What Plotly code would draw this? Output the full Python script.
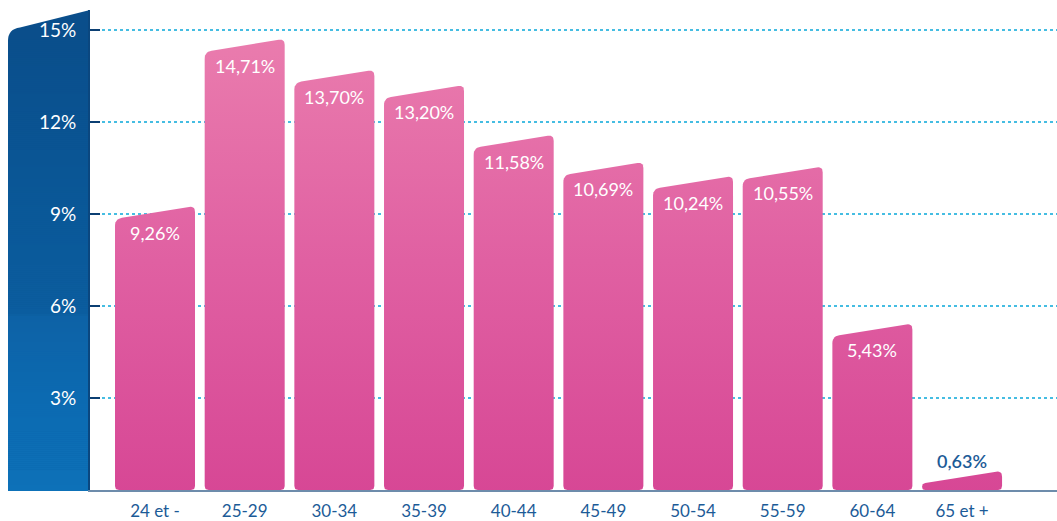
import math
import plotly.graph_objects as go

# ---- data ----
categories = ["24 et -", "25-29", "30-34", "35-39", "40-44", "45-49", "50-54", "55-59", "60-64", "65 et +"]
values = [9.26, 14.71, 13.70, 13.20, 11.58, 10.69, 10.24, 10.55, 5.43, 0.63]
value_labels = ["9,26%", "14,71%", "13,70%", "13,20%", "11,58%", "10,69%", "10,24%", "10,55%", "5,43%", "0,63%"]
y_tickvals = [3, 6, 9, 12, 15]
y_ticktext = ["3%", "6%", "9%", "12%", "15%"]

# ---- layout constants ----
W, H = 1057, 521
ML, MR, MT, MB = 90, 0, 10, 28
PW, PH = W - ML - MR, H - MT - MB
XR = [-0.725, 10.059]
YR = [0, 15.65]
SX = PW / (XR[1] - XR[0])   # px per category unit
SY = PH / (YR[1] - YR[0])   # px per percent
HALF_W = 40 / SX
SLANT = 13 / SY

NAVY = "#1c5b97"
PINK_SCALE = [[0, "#d74795"], [0.5, "#e060a2"], [1, "#ea7dae"]]


def rounded_polygon(pts, radii, n=7):
    """pts in pixel-like space; returns smoothed list of points."""
    out = []
    N = len(pts)
    for i, (P, r) in enumerate(zip(pts, radii)):
        A = pts[i - 1]
        B = pts[(i + 1) % N]
        da = math.hypot(A[0] - P[0], A[1] - P[1])
        db = math.hypot(B[0] - P[0], B[1] - P[1])
        rr = min(r, da / 2, db / 2)
        P1 = (P[0] + rr * (A[0] - P[0]) / da, P[1] + rr * (A[1] - P[1]) / da)
        P2 = (P[0] + rr * (B[0] - P[0]) / db, P[1] + rr * (B[1] - P[1]) / db)
        for k in range(n + 1):
            t = k / n
            x = (1 - t) ** 2 * P1[0] + 2 * (1 - t) * t * P[0] + t ** 2 * P2[0]
            y = (1 - t) ** 2 * P1[1] + 2 * (1 - t) * t * P[1] + t ** 2 * P2[1]
            out.append((x, y))
    out.append(out[0])
    return out


fig = go.Figure()

for i, v in enumerate(values):
    xl, xr = i - HALF_W, i + HALF_W
    pts = [(xl * SX, 0), (xr * SX, 0), (xr * SX, v * SY), (xl * SX, (v - SLANT) * SY)]
    sm = rounded_polygon(pts, [4, 4, 6, 7])
    xs = [p[0] / SX for p in sm]
    ys = [max(p[1] / SY, 0) for p in sm]
    fig.add_trace(go.Scatter(
        x=xs, y=ys, mode="lines", fill="toself",
        line=dict(width=0, color="rgba(0,0,0,0)"),
        fillcolor="#e060a2",
        fillgradient=dict(type="vertical", colorscale=PINK_SCALE, start=0, stop=15),
        hoverinfo="skip", showlegend=False,
    ))

# value labels
for i, (v, lab) in enumerate(zip(values, value_labels)):
    inside = v > 2
    fig.add_annotation(
        x=i, y=v, text=lab, showarrow=False,
        xanchor="center", yanchor="middle",
        yshift=-27 if inside else 10,
        font=dict(family="Lato", size=18, color="white" if inside else NAVY,
                  weight=400 if inside else 600),
    )

# ---- left blue panel (decoration) ----
def px2paper(px, py):
    return (px - ML) / PW, (H - MB - py) / PH

path = "M {} {} L {} {} L {} {} L {} {} Q {} {} {} {} Z".format(
    *px2paper(8, 494), *px2paper(90, 494), *px2paper(90, 10),
    *px2paper(20, 27.5),
    *px2paper(8, 29), *px2paper(8, 41),
)
shapes = [dict(type="path", path=path, xref="paper", yref="paper",
               fillcolor="#0a4e8b", line=dict(width=0), layer="below")]


def hex2rgb(h):
    h = h.lstrip("#")
    return tuple(int(h[k:k + 2], 16) for k in (0, 2, 4))


panel_stops = [(30, "#0a4e8b"), (215, "#0a5898"), (316, "#0b5d9f"), (318, "#0d62a6"),
               (400, "#0c6ab1"), (494, "#0d71b8")]


def panel_color(py):
    for (a, ca), (b, cb) in zip(panel_stops[:-1], panel_stops[1:]):
        if a <= py <= b:
            t = (py - a) / (b - a) if b > a else 0
            r1, g1, b1 = hex2rgb(ca)
            r2, g2, b2 = hex2rgb(cb)
            return "rgb({},{},{})".format(round(r1 + (r2 - r1) * t), round(g1 + (g2 - g1) * t),
                                          round(b1 + (b2 - b1) * t))
    return panel_stops[-1][1]


step = 2
py = 40
while py < 494:
    x0, y1 = px2paper(8, py)
    x1, y0 = px2paper(90, min(py + step + 0.5, 494))
    shapes.append(dict(type="rect", xref="paper", yref="paper", x0=x0, x1=x1, y0=y0, y1=y1,
                       fillcolor=panel_color(py + step / 2), line=dict(width=0), layer="below"))
    py += step

fig.update_layout(
    width=W, height=H,
    margin=dict(l=ML, r=MR, t=MT, b=MB, pad=0),
    paper_bgcolor="white", plot_bgcolor="rgba(0,0,0,0)",
    shapes=shapes,
    showlegend=False,
    xaxis=dict(range=XR, tickvals=list(range(len(categories))), ticktext=categories,
               showgrid=False, zeroline=False, showline=True, linecolor="#6d8cab", linewidth=2,
               ticks="", tickfont=dict(family="Lato", size=17, color=NAVY),
               ticklabelstandoff=5, fixedrange=True),
    yaxis=dict(range=YR, tickvals=y_tickvals, ticktext=y_ticktext,
               showgrid=True, gridcolor="#45bde2", gridwidth=1.5, griddash="dot",
               zeroline=False, showline=True, linecolor="#0b477f", linewidth=2,
               ticks="inside", ticklen=10, tickwidth=2, tickcolor="#0b3f73",
               tickfont=dict(family="Lato", size=19, color="white"),
               ticklabelstandoff=8, fixedrange=True),
)

fig.write_html(
    "out.html",
    config={"displayModeBar": False},
    post_script="document.body.style.margin='0';document.body.style.overflow='hidden';",
)
